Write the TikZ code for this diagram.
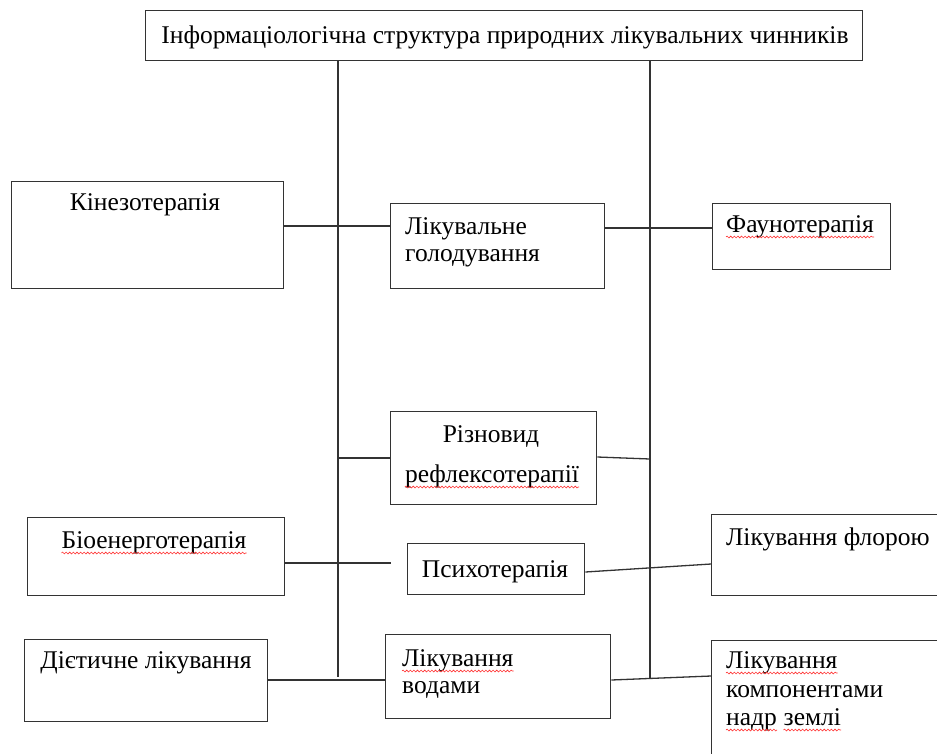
\documentclass[tikz,border=0pt]{standalone}
\usepackage{fontspec}
\setmainfont{Liberation Serif}
\usetikzlibrary{decorations.pathmorphing}
\begin{document}
\begin{tikzpicture}[x=1pt,y=-1pt,
  box/.style={draw=black!80, line width=1.3pt, inner sep=0pt, anchor=north west, fill=white},
  link/.style={draw=black!80, line width=1.3pt},
  txt/.style={inner sep=0pt, font=\fontsize{25.5}{27}\selectfont, text=black},
  spell/.style={draw=red!80, line width=0.6pt, decorate, decoration={snake, amplitude=0.9pt, segment length=3.6pt}}
]
\useasboundingbox (0,0) rectangle (937,753);
\fill[white] (0,0) rectangle (937,753);
\clip (0,0) rectangle (937,753);

% boxes
\node[box, minimum width=717, minimum height=50] (title) at (145,10) {};
\node[box, minimum width=272, minimum height=107] (kin) at (11,181) {};
\node[box, minimum width=214, minimum height=85] (golod) at (390,203) {};
\node[box, minimum width=178, minimum height=66] (fauna) at (712,203) {};
\node[box, minimum width=206, minimum height=93] (reflex) at (390,411) {};
\node[box, minimum width=257, minimum height=78] (bio) at (27,517) {};
\node[box, minimum width=177, minimum height=51] (psy) at (407,543) {};
\node[box, minimum width=260, minimum height=81] (flora) at (711,514) {};
\node[box, minimum width=243, minimum height=82] (diet) at (24,639) {};
\node[box, minimum width=225, minimum height=84] (water) at (385,634) {};
\node[box, minimum width=260, minimum height=140] (nadr) at (711,640) {};

% texts
\node[txt, anchor=base] (titlet) at (505,43) {Інформаціологічна структура природних лікувальних чинників};
\node[txt, anchor=base] (kint) at (145,210) {Кінезотерапія};
\node[txt, anchor=base west] (golodt1) at (405,234) {Лікувальне};
\node[txt, anchor=base west] (golodt2) at (405,261) {голодування};
\node[txt, anchor=base west] (faunat) at (726,232) {Фаунотерапія};
\node[txt, anchor=base] (reflext1) at (491,442) {Різновид};
\node[txt, anchor=base] (reflext2) at (492,482) {рефлексотерапії};
\node[txt, anchor=base] (biot) at (154,548) {Біоенерготерапія};
\node[txt, anchor=base] (psyt) at (495,577) {Психотерапія};
\node[txt, anchor=base west] (florat) at (726,545) {Лікування флорою};
\node[txt, anchor=base] (dietthe) at (146,668) {Дієтичне лікування};
\node[txt, anchor=base west] (watert1) at (402,666) {Лікування};
\node[txt, anchor=base west] (watert2) at (402,693) {водами};
\node[txt, anchor=base west] (nadrt1) at (726,668) {Лікування};
\node[txt, anchor=base west] (nadrt2) at (726,697) {компонентами};
\node[txt, anchor=base west] (nadrt3) at (726,725) {надр};
\node[txt, anchor=base west] (nadrt4) at ([xshift=6.4]nadrt3.base east) {землі};

% spelling marks
\foreach \w in {faunat,reflext2,biot,watert1,nadrt1,nadrt3,nadrt4}
  \draw[spell] ([yshift=-5]\w.base west) -- ([yshift=-5]\w.base east);

% trunk lines
\coordinate (lend) at (338,677);
\coordinate (rend) at (650,678);
\draw[link] (title.south -| lend) -- (lend);
\draw[link] (title.south -| rend) -- (rend);

% connectors
\draw[link] ([yshift=-45]kin.north east) -- ([yshift=-45]kin.north east -| golod.west);
\draw[link] ([yshift=-25]golod.north east) -- ([yshift=-25]golod.north east -| fauna.west);
\coordinate (rl) at (338,458);
\draw[link] (rl) -- (rl -| reflex.west);
\coordinate (rr) at (650,459);
\draw[link] ([yshift=-46]reflex.north east) -- (rr);
\coordinate (bioend) at (391,563);
\draw[link] (bioend -| bio.east) -- (bioend);
\draw[link] ([yshift=-29]psy.north east) -- ([yshift=-50]flora.north west);
\draw[link] ([yshift=-41]diet.north east) -- ([yshift=-41]diet.north east -| water.west);
\draw[link] ([yshift=-46]water.north east) -- ([yshift=-36]nadr.north west);
\end{tikzpicture}
\end{document}
